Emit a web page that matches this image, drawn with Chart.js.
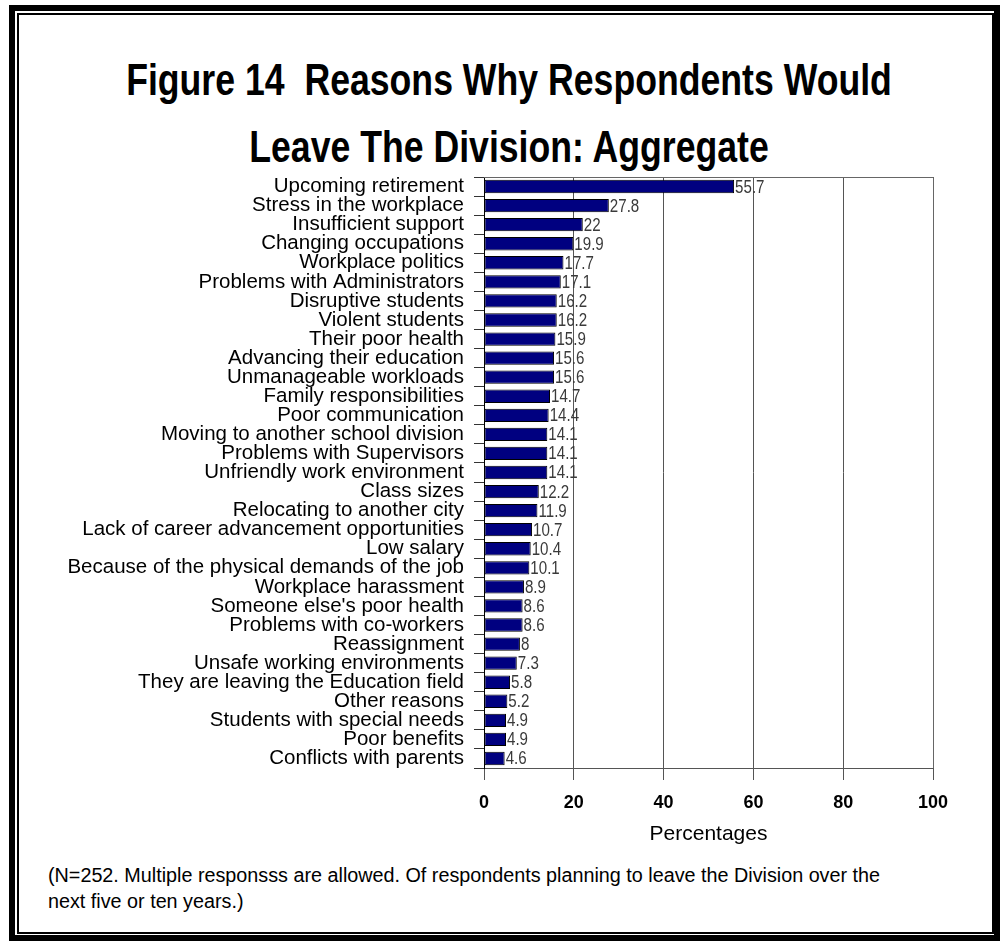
<!DOCTYPE html>
<html lang="en">
<head>
    <meta charset="UTF-8">
    <title>Figure 14 Reasons Why Respondents Would Leave The Division</title>
    <style>
    body {
        margin: 0;
        padding: 0;
        background-color: white;
        width: 1000px;
        height: 941px;
        position: relative;
        overflow: hidden;
        font-family: "Liberation Sans", Arial, sans-serif;
    }
    .frame-outer {
        position: absolute;
        left: 9px;
        top: 5px;
        width: 979px;
        height: 924px;
        border: 6px solid black;
    }
    .frame-inner {
        position: absolute;
        left: 17px;
        top: 13px;
        width: 973px;
        height: 917px;
        border: 2px solid black;
    }
    .title {
        position: absolute;
        left: 9px;
        top: 46px;
        width: 1000px;
        text-align: center;
        font-size: 44px;
        font-weight: bold;
        line-height: 67px;
        color: black;
        transform: scaleX(0.81);
        white-space: nowrap;
    }
    .chart-box {
        position: absolute;
        left: 0;
        top: 0;
        width: 1000px;
        height: 860px;
    }
    .note {
        position: absolute;
        left: 48px;
        top: 862px;
        width: 940px;
        font-size: 20px;
        line-height: 26px;
        color: black;
        transform: scaleX(0.988);
        transform-origin: left top;
    }
    </style>
    <script src="https://cdn.jsdelivr.net/npm/chart.js"></script>
</head>
<body>
    <div class="frame-outer"></div>
    <div class="frame-inner"></div>
    <div class="title">Figure 14&nbsp; Reasons Why Respondents Would<br>Leave The Division: Aggregate</div>
    <div class="chart-box">
        <canvas id="reasonsChart" width="1000" height="860"></canvas>
    </div>
    <div class="note">(N=252. Multiple responsss are allowed. Of respondents planning to leave the Division over the<br>next five or ten years.)</div>

    <script>
    // reasons and percentages, top to bottom
    const reasons = [
        'Upcoming retirement',
        'Stress in the workplace',
        'Insufficient support',
        'Changing occupations',
        'Workplace politics',
        'Problems with Administrators',
        'Disruptive students',
        'Violent students',
        'Their poor health',
        'Advancing their education',
        'Unmanageable workloads',
        'Family responsibilities',
        'Poor communication',
        'Moving to another school division',
        'Problems with Supervisors',
        'Unfriendly work environment',
        'Class sizes',
        'Relocating to another city',
        'Lack of career advancement opportunities',
        'Low salary',
        'Because of the physical demands of the job',
        'Workplace harassment',
        "Someone else's poor health",
        'Problems with co-workers',
        'Reassignment',
        'Unsafe working environments',
        'They are leaving the Education field',
        'Other reasons',
        'Students with special needs',
        'Poor benefits',
        'Conflicts with parents'
    ];
    const percentages = [
        55.7, 27.8, 22, 19.9, 17.7, 17.1, 16.2, 16.2, 15.9, 15.6, 15.6,
        14.7, 14.4, 14.1, 14.1, 14.1, 12.2, 11.9, 10.7, 10.4, 10.1,
        8.9, 8.6, 8.6, 8, 7.3, 5.8, 5.2, 4.9, 4.9, 4.6
    ];
    const xTicks = [0, 20, 40, 60, 80, 100];

    const font = '"Liberation Sans", Arial, sans-serif';

    // numbers written just past the end of each bar (squeezed a little)
    const valueLabels = {
        id: 'valueLabels',
        afterDatasetsDraw(chart) {
            const ctx = chart.ctx;
            const meta = chart.getDatasetMeta(0);
            ctx.save();
            ctx.font = '18px ' + font;
            ctx.fillStyle = '#3a3a3a';
            ctx.textAlign = 'left';
            ctx.textBaseline = 'middle';
            meta.data.forEach((bar, i) => {
                ctx.save();
                ctx.translate(bar.x + 1, bar.y + 1);
                ctx.scale(0.84, 1);
                ctx.fillText(String(percentages[i]), 0, 0);
                ctx.restore();
            });
            ctx.restore();
        }
    };

    // top and right edges of the plot box
    const plotFrame = {
        id: 'plotFrame',
        afterDraw(chart) {
            const a = chart.chartArea;
            const ctx = chart.ctx;
            ctx.save();
            ctx.strokeStyle = '#666';
            ctx.lineWidth = 1;
            ctx.beginPath();
            ctx.moveTo(a.left, a.top + 0.5);
            ctx.lineTo(a.right + 0.5, a.top + 0.5);
            ctx.lineTo(a.right + 0.5, a.bottom);
            ctx.stroke();
            ctx.restore();
        }
    };

    const ctx = document.getElementById('reasonsChart').getContext('2d');
    new Chart(ctx, {
        type: 'bar',
        data: {
            labels: reasons,
            datasets: [{
                data: percentages,
                backgroundColor: '#000080',
                borderColor: 'black',
                borderWidth: 1,
                borderSkipped: false,
                categoryPercentage: 1,
                barPercentage: 0.7
            }]
        },
        options: {
            indexAxis: 'y',
            responsive: false,
            animation: false,
            devicePixelRatio: 1,
            layout: {
                padding: { top: 177, left: 10, right: 67, bottom: 0 }
            },
            plugins: {
                legend: { display: false },
                tooltip: { enabled: false },
                title: { display: false }
            },
            scales: {
                x: {
                    min: 0,
                    max: 100,
                    afterBuildTicks(scale) {
                        scale.ticks = xTicks.map(v => ({ value: v }));
                    },
                    afterFit(scale) {
                        scale.height = 92;
                    },
                    grid: {
                        color: '#555',
                        tickLength: 12,
                        drawTicks: true
                    },
                    border: { color: '#555' },
                    ticks: {
                        color: 'black',
                        padding: 12,
                        font: { family: font, size: 18, weight: 'bold' }
                    },
                    title: {
                        display: true,
                        text: 'Percentages',
                        color: 'black',
                        font: { family: font, size: 21 },
                        padding: { top: 2, bottom: 13 }
                    }
                },
                y: {
                    afterFit(scale) {
                        scale.width = 484 - 10;
                    },
                    grid: {
                        drawOnChartArea: false,
                        color: '#333',
                        tickLength: 10
                    },
                    border: { color: 'black' },
                    ticks: {
                        color: 'black',
                        padding: 10,
                        autoSkip: false,
                        font: { family: font, size: 20.5 }
                    }
                }
            }
        },
        plugins: [valueLabels, plotFrame]
    });
    </script>
</body>
</html>
